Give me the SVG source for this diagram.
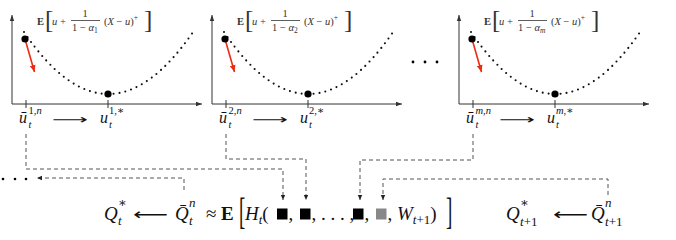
<svg xmlns="http://www.w3.org/2000/svg" width="676" height="240" viewBox="0 0 676 240">
<style>
text{font-family:"Liberation Serif","DejaVu Serif",serif;fill:#111}
.it{font-style:italic}
.bf{font-weight:bold}
.lbl{font-size:10.5px;fill:#333}
.lbl .s{font-size:7.5px}
.lbr{font-size:25px;fill:#333}
.br{fill:#111}
.tk{font-size:16px}
.tks{font-size:10.5px}
.mf{font-size:19px}
.ms{font-size:13px}
.arr{font-family:"DejaVu Sans",sans-serif}
.axis{stroke:#333;stroke-width:1;fill:none}
.tick{stroke:#333;stroke-width:1}
.curve{fill:none;stroke:#111;stroke-width:2.1;stroke-linecap:round;stroke-dasharray:0 6}
.red{stroke:#ee2a10;stroke-width:1.6}
.conn{fill:none;stroke:#555;stroke-width:1;stroke-dasharray:4 3}
.sq{fill:#000}
</style>
<defs>
<marker id="ax" markerUnits="userSpaceOnUse" markerWidth="8" markerHeight="8" refX="6" refY="3" orient="auto"><path d="M0,0.8 L6,3 L0,5.2 Z" fill="#333"/></marker>
<marker id="ra" markerUnits="userSpaceOnUse" markerWidth="10" markerHeight="10" refX="7" refY="3.5" orient="auto"><path d="M0,0.5 L7,3.5 L0,6.5 Z" fill="#ee2a10"/></marker>
<marker id="da" markerUnits="userSpaceOnUse" markerWidth="8" markerHeight="8" refX="5" refY="2.5" orient="auto"><path d="M0,0.3 L5,2.5 L0,4.7 Z" fill="#222"/></marker>
<g id="panelTpl">
<line class="axis" x1="12" y1="104" x2="12" y2="15" marker-end="url(#ax)"/>
<line class="axis" x1="12" y1="104" x2="202" y2="104" marker-end="url(#ax)"/>
<line class="tick" x1="26" y1="100" x2="26" y2="108"/>
<line class="tick" x1="108" y1="100" x2="108" y2="108"/>
<path class="curve" d="M24,32 Q108,156 193,32"/>
<line class="red" x1="25" y1="39" x2="34.5" y2="72" marker-end="url(#ra)"/>
<circle cx="25" cy="39" r="3.6" fill="#000"/>
<circle cx="108" cy="94" r="3.6" fill="#000"/>
<text class="lbl bf" x="37" y="25">E</text>
<text class="lbr" x="45" y="28">[</text>
<text class="lbr" x="144" y="28">]</text>
<text class="lbl" x="52" y="25"><tspan class="it">u</tspan> +</text>
<text class="lbl" x="85" y="17" text-anchor="middle">1</text>
<line x1="71" y1="20.5" x2="100" y2="20.5" stroke="#333" stroke-width="0.8"/>
<text class="lbl" x="104" y="25">(<tspan class="it">X</tspan> − <tspan class="it">u</tspan>)<tspan class="s" dy="-5">+</tspan></text>
<text class="arr" x="52" y="124" font-size="13" textLength="36" lengthAdjust="spacingAndGlyphs">⟶</text>
</g>
</defs>

<g id="panel1">
<use href="#panelTpl"/>
<text class="lbl" x="72" y="31">1 − <tspan class="it">α</tspan><tspan class="s" dy="2">1</tspan></text>
<text class="tk it" x="19" y="123">ū</text>
<text class="tks it" x="28.5" y="128">t</text>
<text class="tks" x="28.5" y="114">1,<tspan class="it">n</tspan></text>
<text class="tk it" x="100" y="123">u</text>
<text class="tks it" x="109" y="128">t</text>
<text class="tks" x="109" y="114">1,∗</text>
</g>

<g id="panel2" transform="translate(200,0)">
<use href="#panelTpl"/>
<text class="lbl" x="72" y="31">1 − <tspan class="it">α</tspan><tspan class="s" dy="2">2</tspan></text>
<text class="tk it" x="19" y="123">ū</text>
<text class="tks it" x="28.5" y="128">t</text>
<text class="tks" x="28.5" y="114">2,<tspan class="it">n</tspan></text>
<text class="tk it" x="100" y="123">u</text>
<text class="tks it" x="109" y="128">t</text>
<text class="tks" x="109" y="114">2,∗</text>
</g>

<g id="panel3" transform="translate(447,0)">
<use href="#panelTpl"/>
<text class="lbl" x="71" y="31">1 − <tspan class="it">α</tspan><tspan class="s it" dy="2">m</tspan></text>
<text class="tk it" x="19" y="123">ū</text>
<text class="tks it" x="28.5" y="128">t</text>
<text class="tks" x="28.5" y="114"><tspan class="it">m</tspan>,<tspan class="it">n</tspan></text>
<text class="tk it" x="100" y="123">u</text>
<text class="tks it" x="109" y="128">t</text>
<text class="tks" x="109" y="114"><tspan class="it">m</tspan>,∗</text>
</g>

<g id="ellipsis-top">
<circle cx="413" cy="62" r="1.4" fill="#000"/>
<circle cx="425" cy="62" r="1.4" fill="#000"/>
<circle cx="437" cy="62" r="1.4" fill="#000"/>
</g>
<g id="ellipsis-left">
<circle cx="3" cy="179" r="1.3" fill="#000"/>
<circle cx="15" cy="179" r="1.3" fill="#000"/>
<circle cx="26" cy="179" r="1.3" fill="#000"/>
</g>

<g id="connectors">
<path class="conn" d="M26,134 V169 H283 V200" marker-end="url(#da)"/>
<path class="conn" d="M226,134 V159 H306 V200" marker-end="url(#da)"/>
<path class="conn" d="M473,134 V160 H360 V200" marker-end="url(#da)"/>
<path class="conn" d="M608,195 V179 H383 V200" marker-end="url(#da)"/>
<path class="conn" d="M184,190 V178 H37" marker-end="url(#da)"/>
</g>

<g id="formula">
<text class="mf it" x="104" y="220">Q</text>
<text class="ms it" x="118" y="225">t</text>
<text class="ms" x="118" y="207">∗</text>
<text class="arr" x="133" y="220" font-size="16" textLength="35" lengthAdjust="spacingAndGlyphs">⟵</text>
<text class="mf it" x="175" y="220">Q̄</text>
<text class="ms it" x="189" y="225">t</text>
<text class="ms it" x="189" y="207">n</text>
<text class="mf" x="206" y="220">≈</text>
<text class="mf bf" x="221" y="220">E</text>
<text class="mf br" transform="translate(239,224) scale(1,2)" font-size="19">[</text>
<text class="mf" x="245" y="220"><tspan class="it">H</tspan><tspan class="ms it" dy="4">t</tspan><tspan dy="-4">(</tspan></text>
<rect class="sq" x="277" y="208.5" width="10.5" height="11"/>
<text class="mf" x="288.5" y="220">,</text>
<rect class="sq" x="300" y="208.5" width="10.5" height="11"/>
<text class="mf" x="311.5" y="220">, . . . ,</text>
<rect class="sq" x="353" y="208.5" width="10.5" height="11"/>
<text class="mf" x="364.5" y="220">,</text>
<rect x="376" y="208.5" width="10.5" height="11" fill="#888"/>
<text class="mf" x="387.5" y="220">, <tspan class="it">W</tspan><tspan class="ms it" dy="4">t</tspan><tspan class="ms">+1</tspan><tspan dy="-4">)</tspan></text>
<text class="mf br" transform="translate(446,224) scale(1,2)" font-size="19">]</text>
</g>

<g id="formula-right">
<text class="mf it" x="506" y="220">Q</text>
<text class="ms" x="520" y="226"><tspan class="it">t</tspan>+1</text>
<text class="ms" x="520" y="207">∗</text>
<text class="arr" x="553" y="220" font-size="16" textLength="35" lengthAdjust="spacingAndGlyphs">⟵</text>
<text class="mf it" x="591" y="220">Q̄</text>
<text class="ms" x="605" y="226"><tspan class="it">t</tspan>+1</text>
<text class="ms it" x="605" y="207">n</text>
</g>
</svg>
